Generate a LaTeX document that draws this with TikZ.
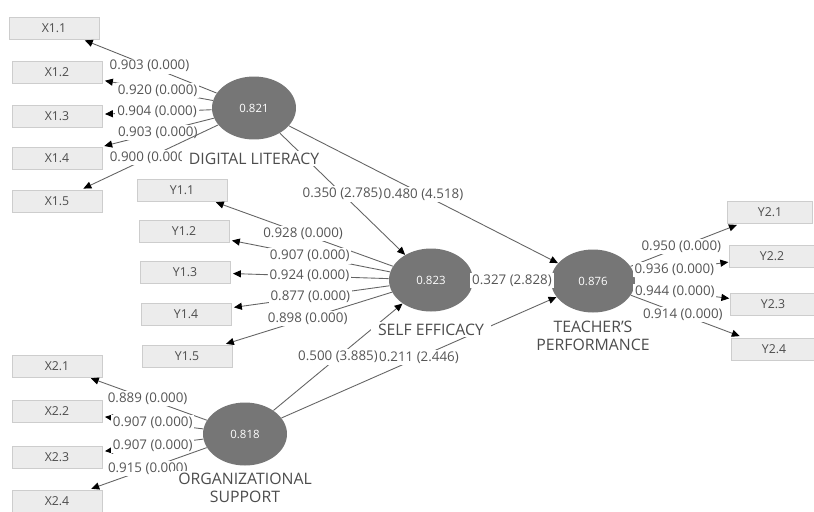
\documentclass[tikz,border=0pt]{standalone}
\usepackage{fontspec}
\setmainfont{Open Sans}
\usepackage{tikz}
\usetikzlibrary{shapes,arrows.meta,positioning}
\definecolor{lvgray}{RGB}{118,118,118}
\definecolor{boxfill}{RGB}{236,236,236}
\definecolor{boxline}{RGB}{205,205,205}
\definecolor{pathgray}{RGB}{100,100,100}
\definecolor{txtgray}{RGB}{85,85,85}

\begin{document}
\begin{tikzpicture}[x=0.02cm, y=-0.02cm,
  every node/.style={font=\fontsize{7.6}{9}\selectfont, text=txtgray},
  latent/.style={ellipse, fill=lvgray, minimum width=1.68cm, minimum height=1.26cm, inner sep=0pt, text=white, font=\fontsize{6.5}{8}\selectfont},
  indicator/.style={rectangle, draw=boxline, fill=boxfill, minimum width=1.8cm, minimum height=0.44cm, inner sep=0pt, font=\fontsize{7}{8}\selectfont, text=black!70},
  indicatorr/.style={indicator, minimum width=1.7cm},
  lvname/.style={fill=white, inner xsep=4pt, inner ysep=1pt, align=center, font=\fontsize{9}{10.5}\selectfont, text=black!70},
  coef/.style={fill=white, inner sep=1pt, midway},
  load/.style={draw=pathgray, line width=0.5pt, -{Triangle[length=4.5pt, width=4pt, color=black]}, shorten >=1.5pt}]
\fill[white] (0,0) rectangle (814,511);
\useasboundingbox (0,0) rectangle (814,511);

\node[latent] (dl) at (254,108) {0.821};
\node[latent] (se) at (431,280) {0.823};
\node[latent] (tp) at (593,281) {0.876};
\node[latent] (os) at (245,434) {0.818};

\node[indicator] (x11) at (54,28) {X1.1};
\node[indicator] (x12) at (57,72) {X1.2};
\node[indicator] (x13) at (57,116) {X1.3};
\node[indicator] (x14) at (57,158) {X1.4};
\node[indicator] (x15) at (57,201) {X1.5};

\node[indicator] (y11) at (182,190) {Y1.1};
\node[indicator] (y12) at (184,231) {Y1.2};
\node[indicator] (y13) at (185,272) {Y1.3};
\node[indicator] (y14) at (186,314) {Y1.4};
\node[indicator] (y15) at (187,356) {Y1.5};

\node[indicatorr] (y21) at (770,212) {Y2.1};
\node[indicatorr] (y22) at (772,256) {Y2.2};
\node[indicatorr] (y23) at (773,304) {Y2.3};
\node[indicatorr] (y24) at (774,349) {Y2.4};

\node[indicator] (x21) at (57,366) {X2.1};
\node[indicator] (x22) at (57,411) {X2.2};
\node[indicator] (x23) at (57,457) {X2.3};
\node[indicator] (x24) at (57,501) {X2.4};

\draw[load] (dl) -- node[coef] {0.903 (0.000)} (x11);
\draw[load] (dl) -- node[coef] {0.920 (0.000)} (x12);
\draw[load] (dl) -- node[coef] {0.904 (0.000)} (x13);
\draw[load] (dl) -- node[coef] {0.903 (0.000)} (x14);
\draw[load] (dl) -- node[coef] {0.900 (0.000)} (x15);

\draw[load] (se) -- node[coef] {0.928 (0.000)} (y11);
\draw[load] (se) -- node[coef] {0.907 (0.000)} (y12);
\draw[load] (se) -- node[coef] {0.924 (0.000)} (y13);
\draw[load] (se) -- node[coef] {0.877 (0.000)} (y14);
\draw[load] (se) -- node[coef] {0.898 (0.000)} (y15);

\draw[load, shorten >=2.5pt] (tp) -- node[coef, pos=0.46] {0.950 (0.000)} (y21);
\draw[load, shorten >=0.5pt] (tp) -- node[coef, pos=0.42] {0.936 (0.000)} (y22);
\draw[load, shorten >=0.5pt] (tp) -- node[coef, pos=0.42] {0.944 (0.000)} (y23);
\draw[load, shorten >=2.5pt] (tp) -- node[coef, pos=0.46] {0.914 (0.000)} (y24);

\draw[load] (os) -- node[coef] {0.889 (0.000)} (x21);
\draw[load] (os) -- node[coef] {0.907 (0.000)} (x22);
\draw[load] (os) -- node[coef] {0.907 (0.000)} (x23);
\draw[load] (os) -- node[coef] {0.915 (0.000)} (x24);

\draw[load, shorten >=0pt] (dl) -- node[coef] {0.480 (4.518)} (tp);
\draw[load, shorten >=0pt] (dl) -- node[coef] {0.350 (2.785)} (se);
\draw[load, shorten >=0pt] (se) -- node[coef] {0.327 (2.828)} (tp);
\draw[load, shorten >=0pt] (os) -- node[coef] {0.500 (3.885)} (se);
\draw[load, shorten >=0pt] (os) -- node[coef] {0.211 (2.446)} (tp);

\node[lvname, below=0.22cm of dl] (dlname) {DIGITAL LITERACY};
\node[lvname, below=0.2cm of se] (sename) {SELF EFFICACY};
\node[lvname, below=0.12cm of tp] (tpname) {TEACHER'S\\PERFORMANCE};
\node[lvname, below=0.1cm of os] (osname) {ORGANIZATIONAL\\SUPPORT};
\end{tikzpicture}
\end{document}
